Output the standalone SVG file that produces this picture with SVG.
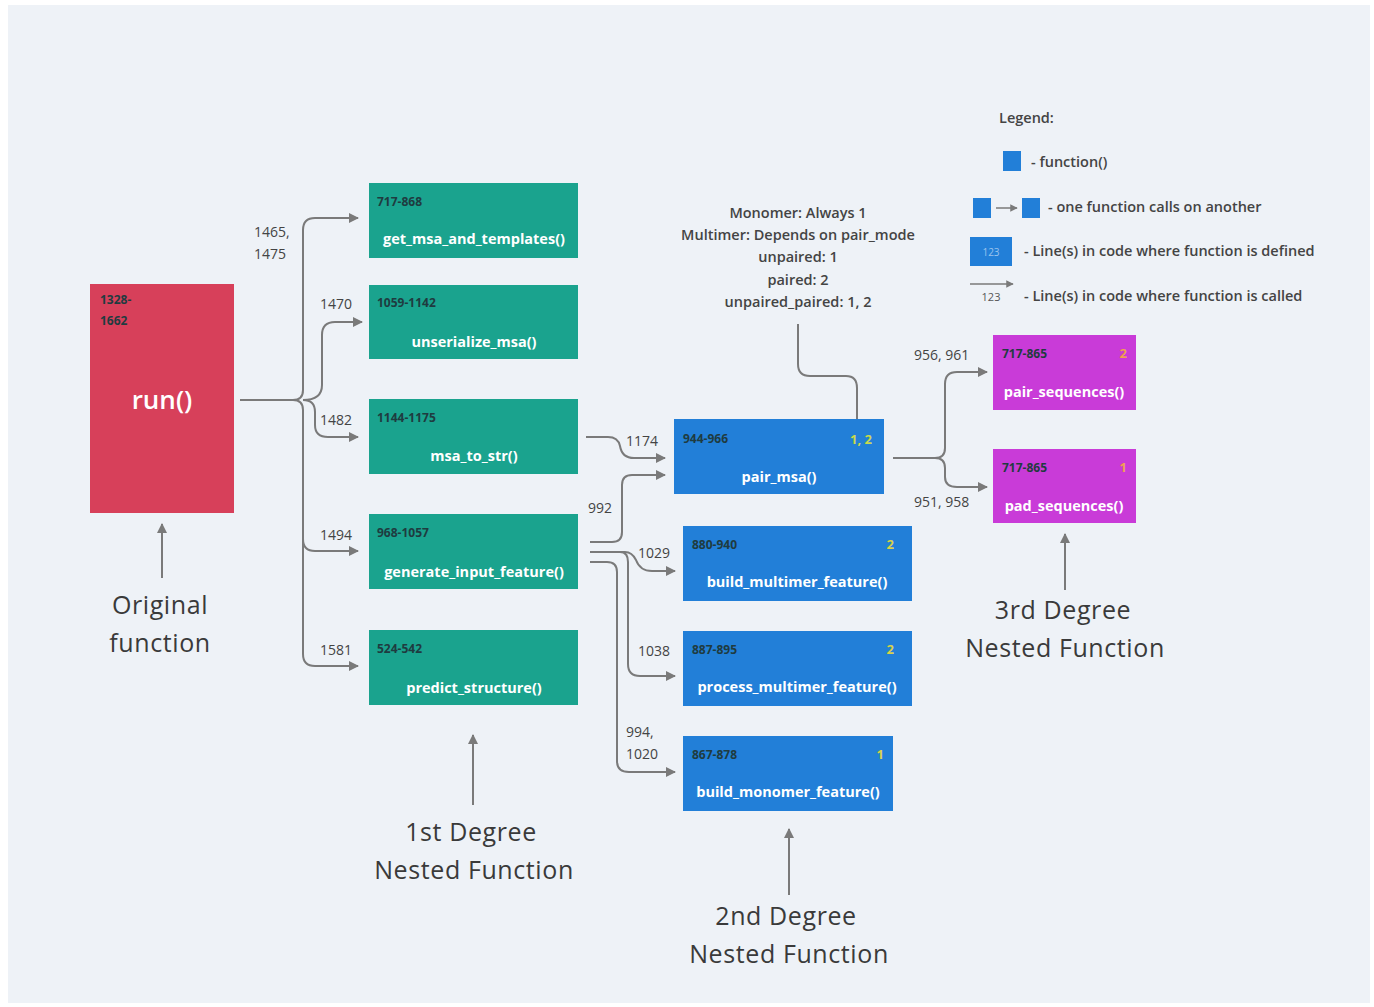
<svg xmlns="http://www.w3.org/2000/svg" width="1374" height="1007" viewBox="0 0 1374 1007">
<style>
.bg{fill:#eef2f7}
.box-red{fill:#d7405a}
.box-green{fill:#1aa38e}
.box-blue{fill:#227fd8}
.box-purple{fill:#c93bd8}
.name{font-family:"Open Sans","Liberation Sans",sans-serif;font-size:14.5px;font-weight:700;fill:#ffffff;text-anchor:middle}
.lines{font-family:"Open Sans","Liberation Sans",sans-serif;font-size:12px;font-weight:700;fill:#1f3b40}
.cnt{font-family:"Open Sans","Liberation Sans",sans-serif;font-size:13px;font-weight:700;text-anchor:end}
.lbl{font-family:"Open Sans","Liberation Sans",sans-serif;font-size:14px;font-weight:500;fill:#444}
.ann{font-family:"Open Sans","Liberation Sans",sans-serif;font-size:14.5px;font-weight:600;fill:#444;text-anchor:middle}
.big{font-family:"Open Sans","Liberation Sans",sans-serif;font-size:25px;font-weight:500;letter-spacing:0.6px;fill:#3a3a3a;text-anchor:middle}
.conn{fill:none;stroke:#7a7a7a;stroke-width:2}
.leg{font-family:"Open Sans","Liberation Sans",sans-serif;font-size:14.5px;font-weight:600;fill:#444}
</style>
<defs>
<marker id="ah" viewBox="0 0 10 10" refX="9" refY="5" markerWidth="5" markerHeight="5" orient="auto">
<path d="M0,0 L10,5 L0,10 z" fill="#7a7a7a"/>
</marker>
</defs>
<rect x="0" y="0" width="1374" height="1007" fill="#ffffff"/>
<rect class="bg" x="8" y="5" width="1362" height="998"/>

<g id="connectors">
<path class="conn" marker-end="url(#ah)" d="M240,400 H293 Q303,400 303,390 V230 Q303,218 315,218 H358"/>
<path class="conn" marker-end="url(#ah)" d="M293,400 Q303,400 303,410 V654 Q303,666 315,666 H358"/>
<path class="conn" marker-end="url(#ah)" d="M303,539 Q303,551 315,551 H358"/>
<path class="conn" marker-end="url(#ah)" d="M303,400 Q322,400 322,385 V335 Q322,322 335,322 H362"/>
<path class="conn" marker-end="url(#ah)" d="M303,400 Q315,400 315,412 V425 Q315,437 328,437 H358"/>
<path class="conn" marker-end="url(#ah)" d="M586,437 H608 Q618,437 620,446 Q622,458 634,458 H665"/>
<path class="conn" marker-end="url(#ah)" d="M590,542 H612 Q622,542 622,532 V485 Q622,475 632,475 H665"/>
<path class="conn" marker-end="url(#ah)" d="M590,552 H625 Q632,552 636,560 Q640,571 652,571 H675"/>
<path class="conn" marker-end="url(#ah)" d="M620,552 Q628,552 628,562 V664 Q628,676 640,676 H675"/>
<path class="conn" marker-end="url(#ah)" d="M590,562 H607 Q617,562 617,572 V761 Q617,772 629,772 H675"/>
<path class="conn" marker-end="url(#ah)" d="M893,458 H935 Q945,458 945,448 V384 Q945,372 957,372 H987"/>
<path class="conn" marker-end="url(#ah)" d="M935,458 Q945,458 945,468 V477 Q945,487 957,487 H987"/>
<path class="conn" d="M798,324 V364 Q798,376 810,376 H846 Q857,376 857,388 V419"/>
<path class="conn" marker-end="url(#ah)" d="M162,578 V524"/>
<path class="conn" marker-end="url(#ah)" d="M473,805 V735"/>
<path class="conn" marker-end="url(#ah)" d="M789,895 V829"/>
<path class="conn" marker-end="url(#ah)" d="M1065,590 V534"/>
</g>

<g id="call-labels" class="lbl">
<text x="254" y="237">1465,</text>
<text x="254" y="259">1475</text>
<text x="320" y="309">1470</text>
<text x="320" y="425">1482</text>
<text x="320" y="540">1494</text>
<text x="320" y="655">1581</text>
<text x="626" y="446">1174</text>
<text x="588" y="513">992</text>
<text x="638" y="558">1029</text>
<text x="638" y="656">1038</text>
<text x="626" y="737">994,</text>
<text x="626" y="759">1020</text>
<text x="914" y="360">956, 961</text>
<text x="914" y="507">951, 958</text>
</g>

<g id="annotation" class="ann">
<text x="798" y="218">Monomer: Always 1</text>
<text x="798" y="240">Multimer: Depends on pair_mode</text>
<text x="798" y="262">unpaired: 1</text>
<text x="798" y="285">paired: 2</text>
<text x="798" y="307">unpaired_paired: 1, 2</text>
</g>

<g id="run">
<rect class="box-red" x="90" y="284" width="144" height="229"/>
<text class="lines" x="100" y="304">1328-</text>
<text class="lines" x="100" y="325">1662</text>
<text class="name" x="162" y="409" style="font-size:26px;font-weight:600">run()</text>
</g>

<g id="get_msa_and_templates">
<rect class="box-green" x="369" y="183" width="209" height="75"/>
<text class="lines" x="377" y="206">717-868</text>
<text class="name" x="474" y="244">get_msa_and_templates()</text>
</g>
<g id="unserialize_msa">
<rect class="box-green" x="369" y="285" width="209" height="74"/>
<text class="lines" x="377" y="307">1059-1142</text>
<text class="name" x="474" y="347">unserialize_msa()</text>
</g>
<g id="msa_to_str">
<rect class="box-green" x="369" y="399" width="209" height="75"/>
<text class="lines" x="377" y="422">1144-1175</text>
<text class="name" x="474" y="461">msa_to_str()</text>
</g>
<g id="generate_input_feature">
<rect class="box-green" x="369" y="514" width="209" height="75"/>
<text class="lines" x="377" y="537">968-1057</text>
<text class="name" x="474" y="577">generate_input_feature()</text>
</g>
<g id="predict_structure">
<rect class="box-green" x="369" y="630" width="209" height="75"/>
<text class="lines" x="377" y="653">524-542</text>
<text class="name" x="474" y="693">predict_structure()</text>
</g>

<g id="pair_msa">
<rect class="box-blue" x="674" y="419" width="210" height="75"/>
<text class="lines" x="683" y="443">944-966</text>
<text class="cnt" x="872" y="444" fill="#c9d94e">1, 2</text>
<text class="name" x="779" y="482">pair_msa()</text>
</g>
<g id="build_multimer_feature">
<rect class="box-blue" x="683" y="526" width="229" height="75"/>
<text class="lines" x="692" y="549">880-940</text>
<text class="cnt" x="894" y="549" fill="#d8d24a">2</text>
<text class="name" x="797" y="587">build_multimer_feature()</text>
</g>
<g id="process_multimer_feature">
<rect class="box-blue" x="683" y="631" width="229" height="75"/>
<text class="lines" x="692" y="654">887-895</text>
<text class="cnt" x="894" y="654" fill="#d8d24a">2</text>
<text class="name" x="797" y="692">process_multimer_feature()</text>
</g>
<g id="build_monomer_feature">
<rect class="box-blue" x="683" y="736" width="210" height="75"/>
<text class="lines" x="692" y="759">867-878</text>
<text class="cnt" x="884" y="759" fill="#d8d24a">1</text>
<text class="name" x="788" y="797">build_monomer_feature()</text>
</g>

<g id="pair_sequences">
<rect class="box-purple" x="993" y="335" width="143" height="75"/>
<text class="lines" x="1002" y="358">717-865</text>
<text class="cnt" x="1127" y="358" fill="#f0a050">2</text>
<text class="name" x="1064" y="397">pair_sequences()</text>
</g>
<g id="pad_sequences">
<rect class="box-purple" x="993" y="449" width="143" height="74"/>
<text class="lines" x="1002" y="472">717-865</text>
<text class="cnt" x="1127" y="472" fill="#f0a050">1</text>
<text class="name" x="1064" y="511">pad_sequences()</text>
</g>

<g id="captions">
<text class="big" x="160" y="614">Original</text>
<text class="big" x="160" y="652">function</text>
<text class="big" x="471" y="841">1st Degree</text>
<text class="big" x="474" y="879">Nested Function</text>
<text class="big" x="786" y="925">2nd Degree</text>
<text class="big" x="789" y="963">Nested Function</text>
<text class="big" x="1063" y="619">3rd Degree</text>
<text class="big" x="1065" y="657">Nested Function</text>
</g>

<g id="legend">
<text class="leg" x="999" y="123">Legend:</text>
<rect class="box-blue" x="1003" y="151" width="18" height="20"/>
<text class="leg" x="1031" y="167">- function()</text>
<rect class="box-blue" x="973" y="198" width="18" height="20"/>
<path class="conn" marker-end="url(#ah)" d="M996,208 H1017" style="stroke-width:1.5"/>
<rect class="box-blue" x="1022" y="198" width="18" height="20"/>
<text class="leg" x="1048" y="212">- one function calls on another</text>
<rect class="box-blue" x="970" y="237" width="42" height="29"/>
<text x="991" y="256" style="font-family:'Open Sans','Liberation Sans',sans-serif;font-size:10px;fill:#9cc4ee;text-anchor:middle">123</text>
<text class="leg" x="1024" y="256">- Line(s) in code where function is defined</text>
<path class="conn" marker-end="url(#ah)" d="M970,284 H1013" style="stroke-width:1.5"/>
<text x="991" y="301" style="font-family:'Open Sans','Liberation Sans',sans-serif;font-size:11px;fill:#555;text-anchor:middle">123</text>
<text class="leg" x="1024" y="301">- Line(s) in code where function is called</text>
</g>
</svg>
